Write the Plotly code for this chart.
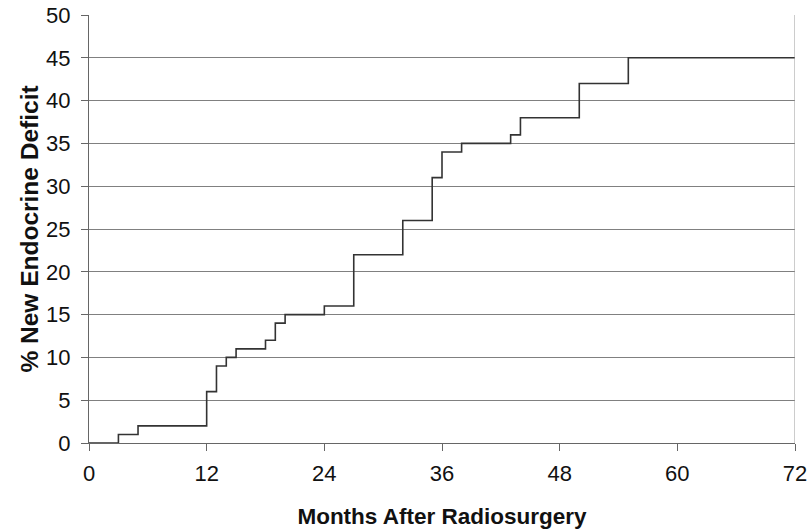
import plotly.graph_objects as go

months = [0, 3, 5, 12, 13, 14, 15, 18, 19, 20, 24, 27, 32, 35, 36, 38, 43, 44, 50, 55, 72]
deficit = [0, 1, 2, 6, 9, 10, 11, 12, 14, 15, 16, 22, 26, 31, 34, 35, 36, 38, 42, 45, 45]
x_ticks = [0, 12, 24, 36, 48, 60, 72]
y_ticks = [0, 5, 10, 15, 20, 25, 30, 35, 40, 45, 50]

FONT = "Liberation Sans, Arial, sans-serif"

fig = go.Figure()
fig.add_trace(go.Scatter(x=months, y=deficit, mode="lines", line_shape="hv",
                         line=dict(color="#333333", width=1.6), showlegend=False))

fig.update_layout(
    width=809, height=529,
    margin=dict(l=89, r=14, t=15, b=86, autoexpand=False),
    paper_bgcolor="white", plot_bgcolor="white",
    font=dict(family=FONT, color="#111111", size=22),
)
fig.update_xaxes(range=[0, 72], tickvals=x_ticks, ticks="outside", ticklen=7,
                 tickcolor="#666666", showline=True, linecolor="#666666", linewidth=1,
                 mirror=False, showgrid=False, zeroline=False, automargin=False,
                 tickfont=dict(size=22), ticklabelstandoff=4, ticklabeloverflow="allow",
                 title=dict(text="<b>Months After Radiosurgery</b>", font=dict(size=22.5), standoff=22))
fig.update_yaxes(range=[0, 50], tickvals=y_ticks, ticks="outside", ticklen=7,
                 tickcolor="#666666", showline=True, linecolor="#666666", linewidth=1,
                 showgrid=True, gridcolor="#808080", gridwidth=1, zeroline=False, automargin=False,
                 tickfont=dict(size=22), ticklabelstandoff=6, ticklabeloverflow="allow",
                 title=dict(text="<b>% New Endocrine Deficit</b>", font=dict(size=24.5), standoff=0))
fig.add_shape(type="line", xref="x", yref="paper", x0=72, x1=72, y0=0, y1=1,
              line=dict(color="#999999", width=1))
fig.write_html("out.html", config={"displayModeBar": False},
               post_script="document.body.style.margin='0';document.body.style.overflow='hidden';")
